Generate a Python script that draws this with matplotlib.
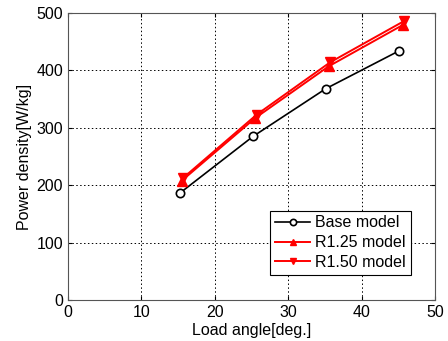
import matplotlib.pyplot as plt

plt.rcParams['font.family'] = ['Liberation Sans', 'DejaVu Sans']

# data
base_x = [15.2, 25.2, 35.1, 45.1]
base_y = [186, 285, 368, 434]
r125_x = [15.5, 25.5, 35.5, 45.6]
r125_y = [208, 317, 407, 479]
r150_x = [15.7, 25.7, 35.7, 45.8]
r150_y = [213, 323, 414, 486]

fig = plt.figure(figsize=(4.48, 3.41), dpi=100)
ax = fig.add_axes([0.152, 0.12, 0.819, 0.842])

ax.plot(base_x, base_y, color='black', lw=1.2, marker='o', ms=6,
        mfc='white', mec='black', mew=1.2, label='Base model')
ax.plot(r125_x, r125_y, color='red', lw=1.4, marker='^', ms=6.5,
        mfc='red', mec='red', label='R1.25 model')
ax.plot(r150_x, r150_y, color='red', lw=1.4, marker='v', ms=6.5,
        mfc='red', mec='red', label='R1.50 model')

ax.set_xlim(0, 50)
ax.set_ylim(0, 500)
ax.set_xticks([0, 10, 20, 30, 40, 50])
ax.set_yticks([0, 100, 200, 300, 400, 500])
ax.tick_params(labelsize=11.5, direction='in', length=3, top=True, right=True)
ax.grid(True, color='black', linestyle=(0, (1.5, 2.5)), linewidth=0.7)
for s in ax.spines.values():
    s.set_color('#555555')

ax.set_xlabel('Load angle[deg.]', fontsize=11.5, labelpad=2)
ax.set_ylabel('Power density[W/kg]', fontsize=11.5, labelpad=3)

leg = ax.legend(loc='lower right', fontsize=11.5, fancybox=False, framealpha=1,
                edgecolor='black', borderpad=0.3, labelspacing=0.3,
                handlelength=2.2, handletextpad=0.3, markerscale=0.75,
                bbox_to_anchor=(0.955, 0.06))
leg.get_frame().set_linewidth(0.8)

fig.savefig('out.png', dpi=100)
